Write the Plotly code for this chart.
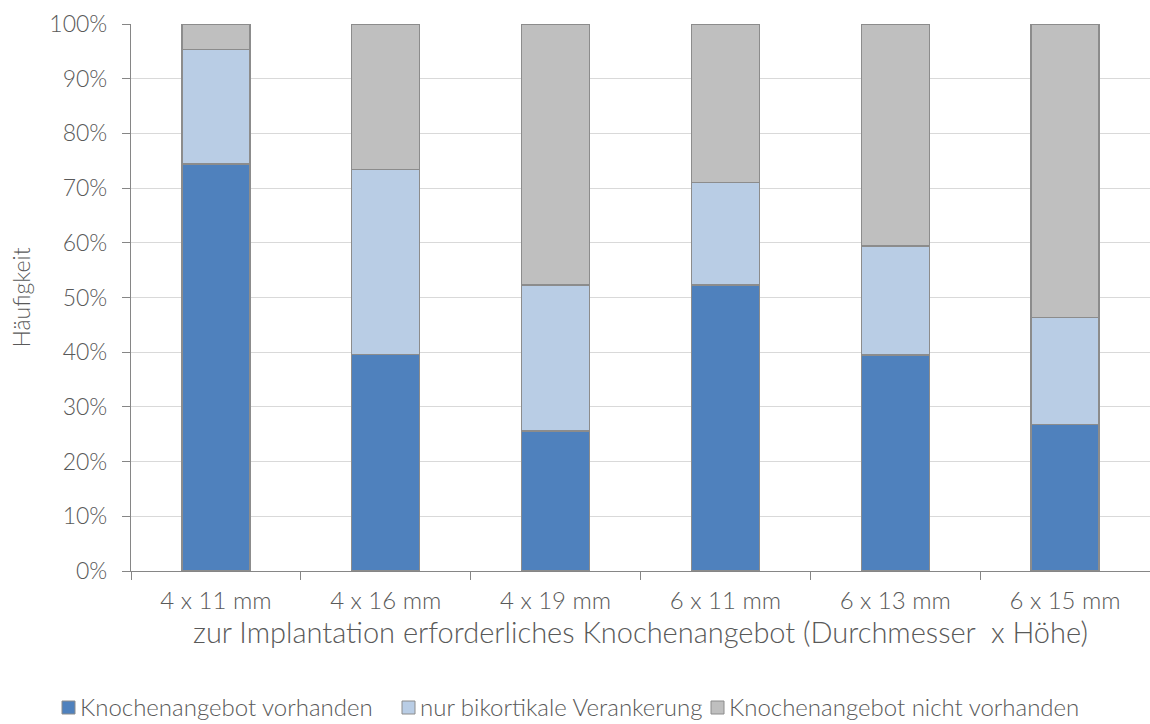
import plotly.graph_objects as go

# Implant sizes (diameter x height)
categories = ["4 x 11 mm", "4 x 16 mm", "4 x 19 mm", "6 x 11 mm", "6 x 13 mm", "6 x 15 mm"]

# Share of cases per category, in percent
vorhanden = [74.4, 39.6, 25.6, 52.3, 39.5, 26.8]
bikortikal = [20.9, 33.8, 26.7, 18.7, 19.9, 19.6]
nicht_vorhanden = [4.7, 26.6, 47.7, 29.0, 40.6, 53.6]

series_names = [
    "Knochenangebot vorhanden",
    "nur bikortikale Verankerung",
    "Knochenangebot nicht vorhanden",
]
series_values = [vorhanden, bikortikal, nicht_vorhanden]
colors = ["#4f81bd", "#b9cde5", "#bfbfbf"]
OUTLINE = "#8c8c8c"

FONT = "Lato"
WEIGHT = 300
TXT = "#595959"

W, H = 1150, 724
L, R, T, B = 131, 0, 24, 153
PW, PH = W - L - R, H - T - B


def px_x(px):
    return (px - L) / PW


def px_y(py):
    return (H - B - py) / PH


def font(size):
    return dict(family=FONT, size=size, color=TXT, weight=WEIGHT)


fig = go.Figure()
for name, vals, col in zip(series_names, series_values, colors):
    fig.add_trace(go.Bar(
        x=categories, y=vals, name=name,
        marker=dict(color=col, line=dict(color=OUTLINE, width=1.3)),
        width=0.4,
    ))

# Legend row below the plot: square swatch followed by the series name
legend_left = [62, 402, 711]
LEG_Y = 706
shapes, annotations = [], []
for name, col, lx in zip(series_names, colors, legend_left):
    shapes.append(dict(
        type="rect", xref="paper", yref="paper",
        x0=px_x(lx), x1=px_x(lx + 13), y0=px_y(LEG_Y + 8), y1=px_y(LEG_Y - 5),
        fillcolor=col, line=dict(color=OUTLINE, width=1),
    ))
    annotations.append(dict(
        xref="paper", yref="paper", x=px_x(lx + 16), y=px_y(LEG_Y),
        xanchor="left", yanchor="middle", showarrow=False,
        text=name, font=font(24),
    ))

fig.update_layout(
    width=W, height=H,
    barmode="stack",
    plot_bgcolor="white", paper_bgcolor="white",
    margin=dict(l=L, r=R, t=T, b=B),
    font=font(18),
    showlegend=False,
    shapes=shapes,
    annotations=annotations,
)

fig.update_yaxes(
    range=[0, 100], dtick=10, ticksuffix="%",
    showgrid=True, gridcolor="#d9d9d9", gridwidth=1.2,
    showline=True, linecolor="#868686", linewidth=1.3,
    ticks="outside", ticklen=8, tickcolor="#868686", tickwidth=1.3,
    ticklabelstandoff=10,
    tickfont=font(23),
    title=dict(text="Häufigkeit", font=font(23), standoff=12),
    zeroline=False,
)
fig.update_xaxes(
    showline=True, linecolor="#868686", linewidth=1.3,
    ticks="outside", ticklen=8, tickcolor="#868686", tickwidth=1.3,
    tickson="boundaries",
    ticklabelstandoff=8,
    tickfont=font(24),
    title=dict(text="zur Implantation erforderliches Knochenangebot (Durchmesser  x Höhe)",
               font=font(29), standoff=2),
    showgrid=False,
)

fig.write_html("out.html")
